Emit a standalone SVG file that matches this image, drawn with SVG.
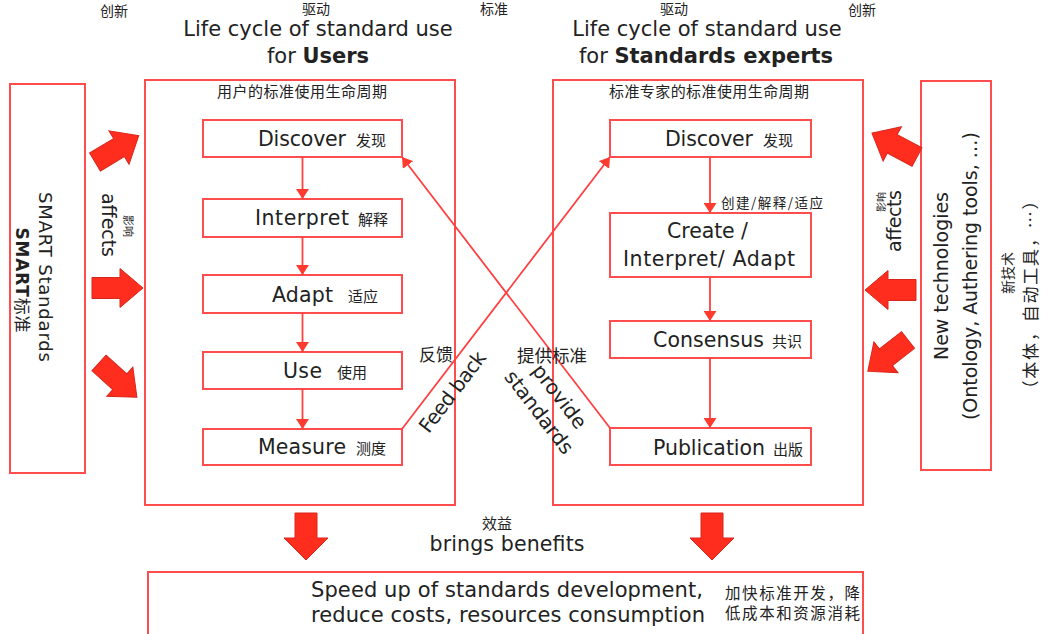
<svg xmlns="http://www.w3.org/2000/svg" width="1041" height="634" viewBox="0 0 1041 634">
<defs>
<marker id="ah" viewBox="0 0 10 13" refX="10" refY="6.5" markerWidth="10" markerHeight="13" markerUnits="userSpaceOnUse" orient="auto"><path d="M0,0 L10,6.5 L0,13 Z" fill="#ff3b30"/></marker>
<path id="barrow" d="M0,-10.5 L28,-10.5 L28,-19.5 L51,0 L28,19.5 L28,10.5 L0,10.5 Z"/>
</defs>
<style>
.box{fill:#fff;stroke:#ff4d4d;stroke-width:2}
.en{font-family:"DejaVu Sans","Liberation Sans",sans-serif;fill:#222}
.zh{font-family:"Noto Sans CJK SC",sans-serif;fill:#222}
.ln{stroke:#ff4040;stroke-width:1.8;fill:none}
.ba{fill:#ff2d1e;stroke:#d9261a;stroke-width:1}
.nt{font-size:20.5px}
.nz{font-size:15px}
</style>
<rect width="1041" height="634" fill="#fff"/>

<!-- top small Chinese labels -->
<g id="top-labels" class="zh" font-size="14">
<text x="100" y="16">创新</text>
<text x="302" y="14">驱动</text>
<text x="480" y="14">标准</text>
<text x="660" y="14">驱动</text>
<text x="848" y="15">创新</text>
</g>

<!-- titles -->
<g id="title-users" class="en" font-size="21" text-anchor="middle">
<text x="318" y="36">Life cycle of standard use</text>
<text x="318" y="63">for <tspan font-weight="bold">Users</tspan></text>
</g>
<g id="title-experts" class="en" font-size="21" text-anchor="middle">
<text x="707" y="36">Life cycle of standard use</text>
<text x="706" y="63">for <tspan font-weight="bold">Standards experts</tspan></text>
</g>

<!-- SMART standards -->
<g id="smart">
<rect class="box" x="10" y="84" width="75" height="389"/>
<text class="en" font-size="18" text-anchor="middle" transform="translate(39,277) rotate(90)" textLength="170">SMART Standards</text>
<text class="en" font-size="17" font-weight="bold" text-anchor="middle" transform="translate(16,280) rotate(90)" textLength="105"><tspan>SMART</tspan><tspan class="zh" font-weight="normal">标准</tspan></text>
</g>

<!-- left affects -->
<g id="affects-left">
<use href="#barrow" class="ba" transform="translate(95,162) rotate(-31)"/>
<use href="#barrow" class="ba" transform="translate(92,288)"/>
<use href="#barrow" class="ba" transform="translate(99,363) rotate(42)"/>
<text class="en" font-size="19" text-anchor="middle" transform="translate(102,225) rotate(90)" textLength="64">affects</text>
<text class="zh" font-size="11" text-anchor="middle" transform="translate(124,226) rotate(90)">影响</text>
</g>

<!-- Users box -->
<g id="users">
<rect class="box" x="145" y="80" width="310" height="425"/>
<text class="zh" font-size="15" x="302" y="97" text-anchor="middle" textLength="170">用户的标准使用生命周期</text>
</g>

<!-- Experts box -->
<g id="experts">
<rect class="box" x="553" y="80" width="310" height="425"/>
<text class="zh" font-size="15" x="709" y="97" text-anchor="middle" textLength="200">标准专家的标准使用生命周期</text>
</g>

<!-- New technologies -->
<g id="newtech">
<rect class="box" x="921" y="81" width="70" height="389"/>
<text class="en" font-size="19" text-anchor="middle" transform="translate(948,276) rotate(-90)" textLength="168">New technologies</text>
<text class="en" font-size="19" text-anchor="middle" transform="translate(977,276) rotate(-90)" textLength="288">(Ontology, Authering tools, …)</text>
<text class="zh" font-size="14" text-anchor="middle" transform="translate(1013,273) rotate(-90)">新技术</text>
<text class="zh" font-size="17" text-anchor="middle" transform="translate(1037,295) rotate(-90)" textLength="205">（本体，自动工具，…）</text>
</g>

<!-- right affects -->
<g id="affects-right">
<use href="#barrow" class="ba" transform="translate(917,157) rotate(-152)"/>
<use href="#barrow" class="ba" transform="translate(916,290) rotate(180)"/>
<use href="#barrow" class="ba" transform="translate(908,340) rotate(142)"/>
<text class="en" font-size="19" text-anchor="middle" transform="translate(901,221) rotate(-90)" textLength="62">affects</text>
<text class="zh" font-size="10" text-anchor="middle" transform="translate(885,202) rotate(-90)">影响</text>
</g>

<!-- User nodes -->
<g id="u-discover">
<rect class="box" x="203" y="120" width="199" height="37"/>
<text class="en nt" x="258" y="146" textLength="88">Discover</text>
<text class="zh nz" x="356" y="146">发现</text>
</g>
<g id="u-interpret">
<rect class="box" x="203" y="199" width="199" height="38"/>
<text class="en nt" x="255" y="225" textLength="94">Interpret</text>
<text class="zh nz" x="358" y="225">解释</text>
</g>
<g id="u-adapt">
<rect class="box" x="203" y="275" width="199" height="38"/>
<text class="en nt" x="272" y="302" textLength="61">Adapt</text>
<text class="zh nz" x="348" y="302">适应</text>
</g>
<g id="u-use">
<rect class="box" x="203" y="352" width="199" height="37"/>
<text class="en nt" x="283" y="378" textLength="39">Use</text>
<text class="zh nz" x="337" y="378">使用</text>
</g>
<g id="u-measure">
<rect class="box" x="203" y="429" width="199" height="36"/>
<text class="en nt" x="258" y="454" textLength="88">Measure</text>
<text class="zh nz" x="356" y="454">测度</text>
</g>

<!-- Expert nodes -->
<g id="e-discover">
<rect class="box" x="610" y="120" width="201" height="37"/>
<text class="en nt" x="665" y="146" textLength="88">Discover</text>
<text class="zh nz" x="763" y="146">发现</text>
</g>
<g id="e-create">
<rect class="box" x="610" y="213" width="201" height="64"/>
<text class="en nt" x="667" y="238" textLength="81">Create /</text>
<text class="en nt" x="623" y="266" textLength="172">Interpret/ Adapt</text>
</g>
<g id="e-consensus">
<rect class="box" x="610" y="321" width="201" height="37"/>
<text class="en nt" x="653" y="347" textLength="111">Consensus</text>
<text class="zh nz" x="772" y="347">共识</text>
</g>
<g id="e-publication">
<rect class="box" x="610" y="428" width="201" height="37"/>
<text class="en nt" x="653" y="455" textLength="112">Publication</text>
<text class="zh nz" x="773" y="455">出版</text>
</g>

<!-- connectors -->
<g id="connectors">
<line class="ln" x1="302.5" y1="157" x2="302.5" y2="199" marker-end="url(#ah)"/>
<line class="ln" x1="302.5" y1="237" x2="302.5" y2="275" marker-end="url(#ah)"/>
<line class="ln" x1="302.5" y1="313" x2="302.5" y2="352" marker-end="url(#ah)"/>
<line class="ln" x1="302.5" y1="389" x2="302.5" y2="429" marker-end="url(#ah)"/>
<line class="ln" x1="710" y1="157" x2="710" y2="213" marker-end="url(#ah)"/>
<line class="ln" x1="710" y1="277" x2="710" y2="321" marker-end="url(#ah)"/>
<line class="ln" x1="710" y1="358" x2="710" y2="428" marker-end="url(#ah)"/>
<line class="ln" x1="402" y1="429" x2="610" y2="157" marker-end="url(#ah)"/>
<line class="ln" x1="610" y1="428" x2="402" y2="157" marker-end="url(#ah)"/>
<text class="zh" font-size="13.5" x="721" y="208" textLength="102">创建/解释/适应</text>
<text class="zh" font-size="17" x="419" y="361">反馈</text>
<text class="en" font-size="20" text-anchor="middle" transform="translate(458,396) rotate(-52.6)" textLength="96">Feed back</text>
<text class="zh" font-size="17.5" x="517" y="362" textLength="70">提供标准</text>
<g class="en" font-size="20" text-anchor="middle" transform="translate(544,408.5) rotate(52.5)">
<text x="0" y="-12.9">provide</text>
<text x="0" y="12.9">standards</text>
</g>
</g>

<!-- benefits -->
<g id="benefits">
<path class="ba" d="M295,513 L317,513 L317,538 L328,538 L306,560 L284,538 L295,538 Z"/>
<path class="ba" d="M701,513 L723,513 L723,538 L734,538 L712,560 L690,538 L701,538 Z"/>
<text class="zh" font-size="15" x="497" y="529" text-anchor="middle">效益</text>
<text class="en" font-size="20.5" x="507" y="551" text-anchor="middle" textLength="155">brings benefits</text>
</g>

<!-- result box -->
<g id="result">
<rect class="box" x="148" y="572" width="715" height="70"/>
<text class="en" font-size="21" x="311" y="597" textLength="392">Speed up of standards development,</text>
<text class="en" font-size="21" x="311" y="622" textLength="394">reduce costs, resources consumption</text>
<text class="zh" font-size="15.5" x="725" y="599" textLength="135">加快标准开发，降</text>
<text class="zh" font-size="15.5" x="725" y="619" textLength="135">低成本和资源消耗</text>
</g>
</svg>
